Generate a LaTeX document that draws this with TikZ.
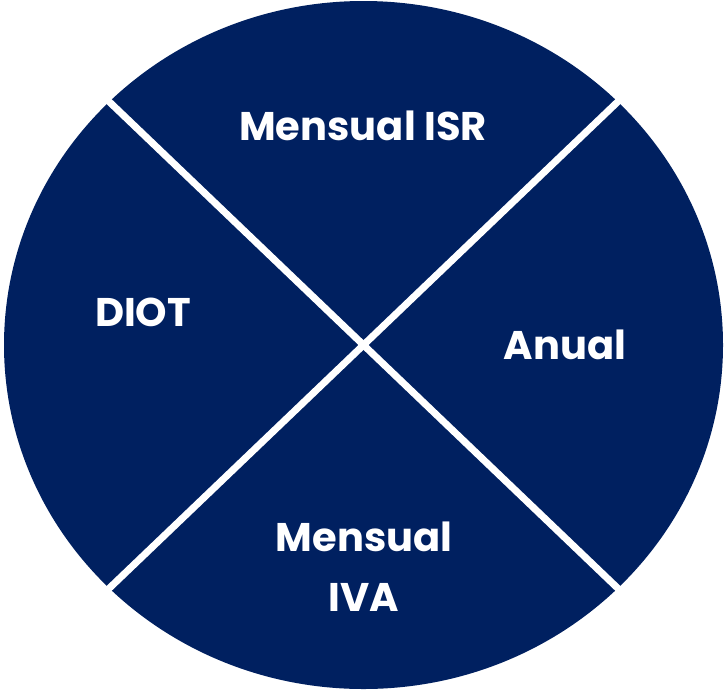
\documentclass[tikz,border=0pt]{standalone}
\usepackage{fontspec}
\setmainfont{Poppins}
\usepackage{tikz}
\usetikzlibrary{positioning,calc}
\definecolor{navy}{RGB}{0,32,96}
\tikzset{
  disc/.style={fill=navy, draw=none},
  cut/.style={draw=white, line width=7pt, shorten <=-6pt, shorten >=-6pt},
  lbl/.style={text=white, font=\fontsize{40}{60}\selectfont\bfseries, align=center, inner sep=0pt},
}

\begin{document}
\begin{tikzpicture}[x=1pt,y=-1pt]
\useasboundingbox (0,0) rectangle (727,694);
\coordinate (c) at (363.5,345);
\fill[disc] (c) ellipse [x radius=359.5pt, y radius=344pt];
% corner points of the two cuts
\coordinate (tl) at (109.3,101.8);
\coordinate (br) at (617.7,588.2);
\coordinate (tr) at (617.7,101.8);
\coordinate (bl) at (109.3,588.2);
\draw[cut] (tl) -- (br);
\draw[cut] (tr) -- (bl);
% labels
\foreach \n/\x/\y/\t in {
 isr/363/126/{Mensual ISR},
 diot/143/312/{DIOT},
 anual/565/345/{Anual},
 iva/364/567/{Mensual\\IVA}} {
  \node[lbl] (\n) at (\x,\y) {\t};
}
\end{tikzpicture}
\end{document}
